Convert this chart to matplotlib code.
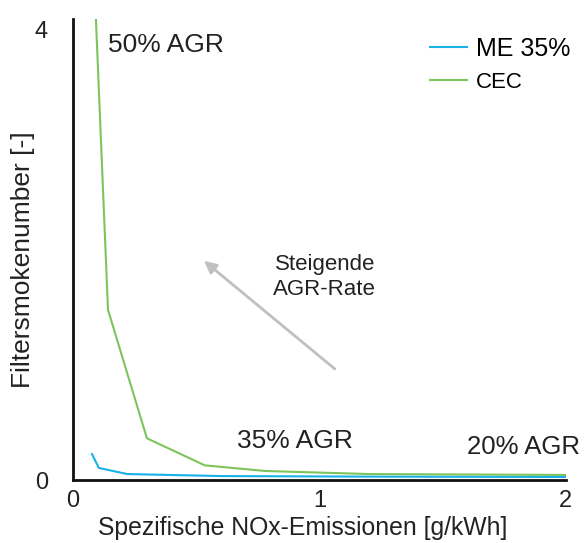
import matplotlib.pyplot as plt

plt.rcParams['font.family'] = ['Liberation Sans', 'DejaVu Sans']

# NOx [g/kWh] vs filter smoke number
cec_x = [0.093, 0.142, 0.30, 0.535, 0.78, 1.2, 2.0]
cec_y = [4.09, 1.51, 0.37, 0.13, 0.08, 0.053, 0.045]
me_x = [0.077, 0.105, 0.22, 0.6, 1.2, 2.0]
me_y = [0.23, 0.107, 0.053, 0.035, 0.03, 0.027]

fig = plt.figure(figsize=(5.84, 5.43), dpi=100)
ax = fig.add_axes([0.125, 0.116, 0.844, 0.849])

ax.plot(me_x, me_y, color='#1ab0e8', lw=1.5, label='ME 35%')
ax.plot(cec_x, cec_y, color='#7dc55a', lw=1.5, label='CEC')

ax.set_xlim(0, 2)
ax.set_ylim(0, 4.09)
ax.set_xticks([0, 1, 2])
ax.set_yticks([0, 4])
ax.tick_params(axis='both', length=0, labelsize=17, colors='#222222')
ax.tick_params(axis='y', pad=18)
ax.tick_params(axis='x', pad=7)
for s in ['top', 'right']:
    ax.spines[s].set_visible(False)
for s in ['left', 'bottom']:
    ax.spines[s].set_linewidth(2)
    ax.spines[s].set_color('#111111')

ax.set_xlabel('Spezifische NOx-Emissionen [g/kWh]', fontsize=17.8, color='#222222')
ax.set_ylabel('Filtersmokenumber [-]', fontsize=19, color='#222222')
ax.xaxis.set_label_coords(0.467, -0.078)
ax.yaxis.set_label_coords(-0.078, 0.479)

ax.text(0.142, 3.86, '50% AGR', fontsize=19, va='center', color='#222222')
ax.text(0.665, 0.35, '35% AGR', fontsize=19, va='center', color='#222222')
ax.text(1.60, 0.29, '20% AGR', fontsize=18.5, va='center', color='#222222')

ax.annotate('', xy=(0.523, 1.96), xytext=(1.071, 0.97),
            arrowprops=dict(arrowstyle='-|>', color='#c0c0c0', lw=2,
                            mutation_scale=18))
ax.text(1.022, 1.80, 'Steigende\nAGR-Rate', fontsize=16, ha='center', va='center',
        color='#222222', linespacing=1.25)

leg = ax.legend(loc='upper right', bbox_to_anchor=(1.055, 1.01), frameon=False,
                fontsize=18, handlelength=1.5, handletextpad=0.35, labelspacing=0.4)
leg.get_texts()[1].set_fontsize(16)

fig.savefig('out.png', dpi=100)
